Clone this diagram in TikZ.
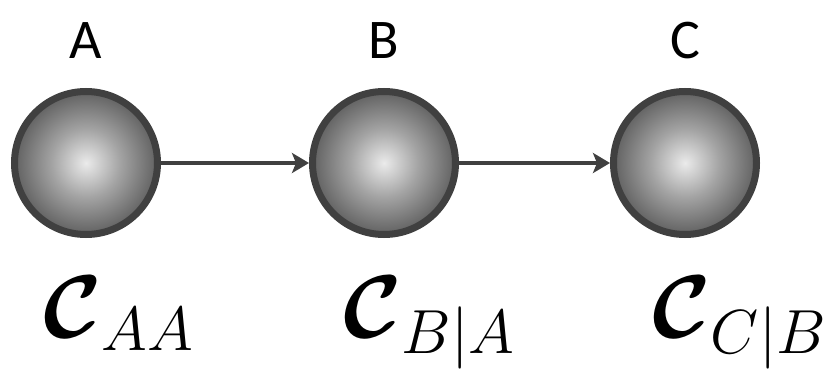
\documentclass[tikz,border=0pt]{standalone}
\usepackage{fix-cm}
\usepackage{amsmath}
\usepackage{bm}
\usepackage{fontspec}
\newfontfamily\labelfont{Carlito}
\usetikzlibrary{positioning,arrows.meta}

\pgfdeclareradialshading{ballgray}{\pgfpoint{0bp}{0bp}}{color(0bp)=(black!8); color(12bp)=(black!36); color(25bp)=(black!62); color(50bp)=(black!62)}

\begin{document}
\begin{tikzpicture}[
  x=1pt, y=1pt,
  node distance=29pt,
  ball/.style={circle, draw=black!75, line width=7pt, minimum size=143pt, inner sep=0pt, shading=ballgray},
  varlabel/.style={font=\labelfont\fontsize{56}{60}\selectfont, inner sep=0pt},
  prob/.style={font=\fontsize{89}{100}\selectfont, inner sep=0pt, anchor=base west},
  arr/.style={-{Stealth[length=17pt, width=20pt, inset=4pt]}, line width=4pt, draw=black!75}
]
\useasboundingbox (0,0) rectangle (833,373);

\node[ball] (a) at (86,210) {};
\node[ball] (b) at (384,210) {};
\node[ball] (c) at (685,210) {};

\node[varlabel, above=of a] (la) {A};
\node[varlabel, above=of b] (lb) {B};
\node[varlabel, above=of c] (lc) {C};

\draw[arr] (a) -- (b);
\draw[arr] (b) -- (c);

\node[prob] (pa) at (43,36) {$\bm{\mathcal{C}}_{AA}$};
\node[prob] (pb) at (343,36) {$\bm{\mathcal{C}}_{B|A}$};
\node[prob] (pc) at (652,36) {$\bm{\mathcal{C}}_{C|B}$};
\end{tikzpicture}
\end{document}
